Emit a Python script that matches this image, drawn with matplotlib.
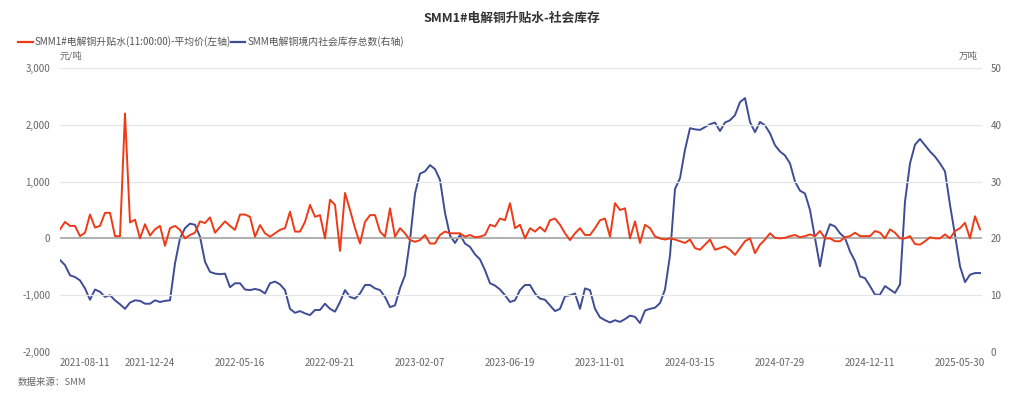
import matplotlib
matplotlib.use("Agg")
import matplotlib.pyplot as plt
import numpy as np
from matplotlib.ticker import FuncFormatter

plt.rcParams['font.family'] = ['Noto Sans CJK SC', 'DejaVu Sans']

# trading-day step between samples (category axis)
STEP = 5

# SMM1#电解铜升贴水 (元/吨), one value every STEP trading days
premium = [
    160, 290, 220, 220, 40, 100, 420, 190, 220, 450, 450, 40, 40, 2200, 280, 330, 0, 250, 50, 160,
    220, -130, 180, 220, 150, 0, 60, 100, 300, 270, 370, 100, 200, 300, 220, 150, 420, 420,
    380, 30, 235, 90, 30, 90, 150, 180, 470, 120, 120, 290, 590, 380, 410, 0, 680, 590, -220, 800,
    500, 180, -90, 290, 410, 410, 120, 30, 530, 30, 180, 90, -30, -60, -30, 60, -90,
    -90, 60, 120, 90, 90, 90, 30, 60, 20, 30, 60, 240, 210, 350, 320, 620, 180, 240, 0, 180,
    120, 200, 120, 320, 350, 240, 90, -30, 90, 180, 60, 60, 180, 320, 350, 30, 620,
    500, 530, 0, 300, -80, 240, 180, 35, 0, -20, 0, -20, -50, -80, -20, -170, -200, -110, -20, -200,
    -170, -140, -200, -290, -170, -50, 0, -260, -110, -20, 90, 10, 0, 10, 40, 60, 20,
    40, 70, 40, 130, 0, 0, -50, -50, 20, 40, 100, 40, 40, 40, 130, 100, 0, 160, 100, 0,
    0, 40, -100, -110, -50, 20, 0, 0, 70, 0, 130, 180, 275, 0, 390, 160,
]

# SMM电解铜境内社会库存总数 (万吨)
inventory = [
    16.2, 15.3, 13.5, 13.2, 12.6, 11.2, 9.2, 11.0, 10.6, 9.7, 10.0, 9.1, 8.4, 7.6, 8.7, 9.1, 9.0, 8.5, 8.5, 9.1,
    8.8, 9.0, 9.1, 15.6, 20.0, 21.8, 22.6, 22.4, 20.3, 15.9, 14.1, 13.8, 13.7, 13.8, 11.4, 12.1, 12.1, 11.0,
    10.9, 11.1, 10.9, 10.3, 12.1, 12.4, 11.9, 10.9, 7.6, 6.9, 7.2, 6.8, 6.5, 7.4, 7.4, 8.5, 7.6, 7.1, 8.8, 10.9,
    9.7, 9.4, 10.3, 11.8, 11.8, 11.2, 10.9, 9.7, 7.9, 8.2, 11.2, 13.5, 19.7, 27.9, 31.4, 31.8, 32.9,
    32.2, 30.3, 24.5, 20.5, 19.2, 20.6, 19.1, 18.5, 17.2, 16.3, 14.4, 12.1, 11.7, 11.0, 10.0, 8.8, 9.1, 10.9, 11.8, 11.8,
    10.3, 9.4, 9.2, 8.2, 7.2, 7.6, 9.8, 10.0, 10.3, 7.6, 11.2, 10.9, 7.6, 6.1, 5.6, 5.2, 5.6,
    5.3, 5.8, 6.4, 6.2, 5.1, 7.3, 7.6, 7.8, 8.6, 11.0, 17.0, 28.7, 30.6, 35.6, 39.4, 39.2, 39.1, 39.6, 40.1, 40.4,
    38.9, 40.4, 40.8, 41.7, 44.0, 44.7, 40.5, 38.7, 40.5, 39.9, 38.5, 36.4, 35.3, 34.6, 33.2, 30.0, 28.4,
    27.9, 25.0, 20.1, 15.1, 20.1, 22.5, 22.1, 20.9, 20.1, 17.7, 16.0, 13.3, 13.0, 11.6, 10.1, 10.1, 11.6, 11.0, 10.4, 11.9,
    26.5, 33.2, 36.5, 37.5, 36.4, 35.3, 34.4, 33.2, 31.8, 25.9, 20.6, 15.1, 12.3, 13.6, 13.9, 13.9,
]

tick_labels = ["2021-08-11", "2021-12-24", "2022-05-16", "2022-09-21", "2023-02-07", "2023-06-19",
               "2023-11-01", "2024-03-15", "2024-07-29", "2024-12-11", "2025-05-30"]
tick_every = 90  # trading days between labels

RED = "#ef3a17"
BLUE = "#3e4c96"
GRAY = "#666666"

x = np.arange(len(premium)) * STEP

fig = plt.figure(figsize=(10.24, 3.99), dpi=100)
ax = fig.add_axes([60 / 1024, 47 / 399, 922 / 1024, 284 / 399])
ax2 = ax.twinx()

ax.set_zorder(ax2.get_zorder() + 1)
ax.patch.set_visible(False)

ax.plot(x, premium, color=RED, lw=1.4, zorder=3)
ax2.plot(x, inventory, color=BLUE, lw=1.4, zorder=2)

ax.set_xlim(0, 922)
ax.set_ylim(-2000, 3000)
ax2.set_ylim(0, 50)
ax.set_yticks(np.arange(-2000, 3001, 1000))
ax2.set_yticks(np.arange(0, 51, 10))
ax.yaxis.set_major_formatter(FuncFormatter(lambda v, p: f"{v:,.0f}"))

for yv in np.arange(-2000, 3001, 1000):
    if yv == 0:
        ax.axhline(0, color="#aaaaaa", lw=1.3, zorder=1)
    else:
        ax.axhline(yv, color="#e6e6e6", lw=0.9, zorder=0)

ax.set_xticks(np.arange(len(tick_labels)) * tick_every)
ax.set_xticklabels(tick_labels)
ax.get_xticklabels()[0].set_ha("left")

for a in (ax, ax2):
    for s in a.spines.values():
        s.set_visible(False)
    a.tick_params(length=0, labelsize=7, colors=GRAY)
ax.tick_params(axis="x", pad=4)
ax.tick_params(axis="y", pad=7)
ax2.tick_params(axis="y", pad=6)

fig.text(0.5, 1 - 18 / 399, "SMM1#电解铜升贴水-社会库存", ha="center", va="center",
         fontsize=9.2, fontweight="bold", color="#333333")

# legend
ly = 1 - 42 / 399
fig.add_artist(plt.Line2D([18 / 1024, 33 / 1024], [ly, ly], color=RED, lw=1.6))
fig.text(35 / 1024, ly, "SMM1#电解铜升贴水(11:00:00)-平均价(左轴)", ha="left", va="center",
         fontsize=7.1, color="#555555")
fig.add_artist(plt.Line2D([231 / 1024, 245 / 1024], [ly, ly], color=BLUE, lw=1.6))
fig.text(248 / 1024, ly, "SMM电解铜境内社会库存总数(右轴)", ha="left", va="center",
         fontsize=7.1, color="#555555")

fig.text(60 / 1024, 1 - 56 / 399, "元/吨", ha="left", va="center", fontsize=6.8, color=GRAY)
fig.text(978 / 1024, 1 - 56 / 399, "万吨", ha="right", va="center", fontsize=6.8, color=GRAY)
fig.text(18 / 1024, 1 - 382 / 399, "数据来源：SMM", ha="left", va="center", fontsize=6.8, color=GRAY)

fig.savefig("out.png", dpi=100, facecolor="white")
